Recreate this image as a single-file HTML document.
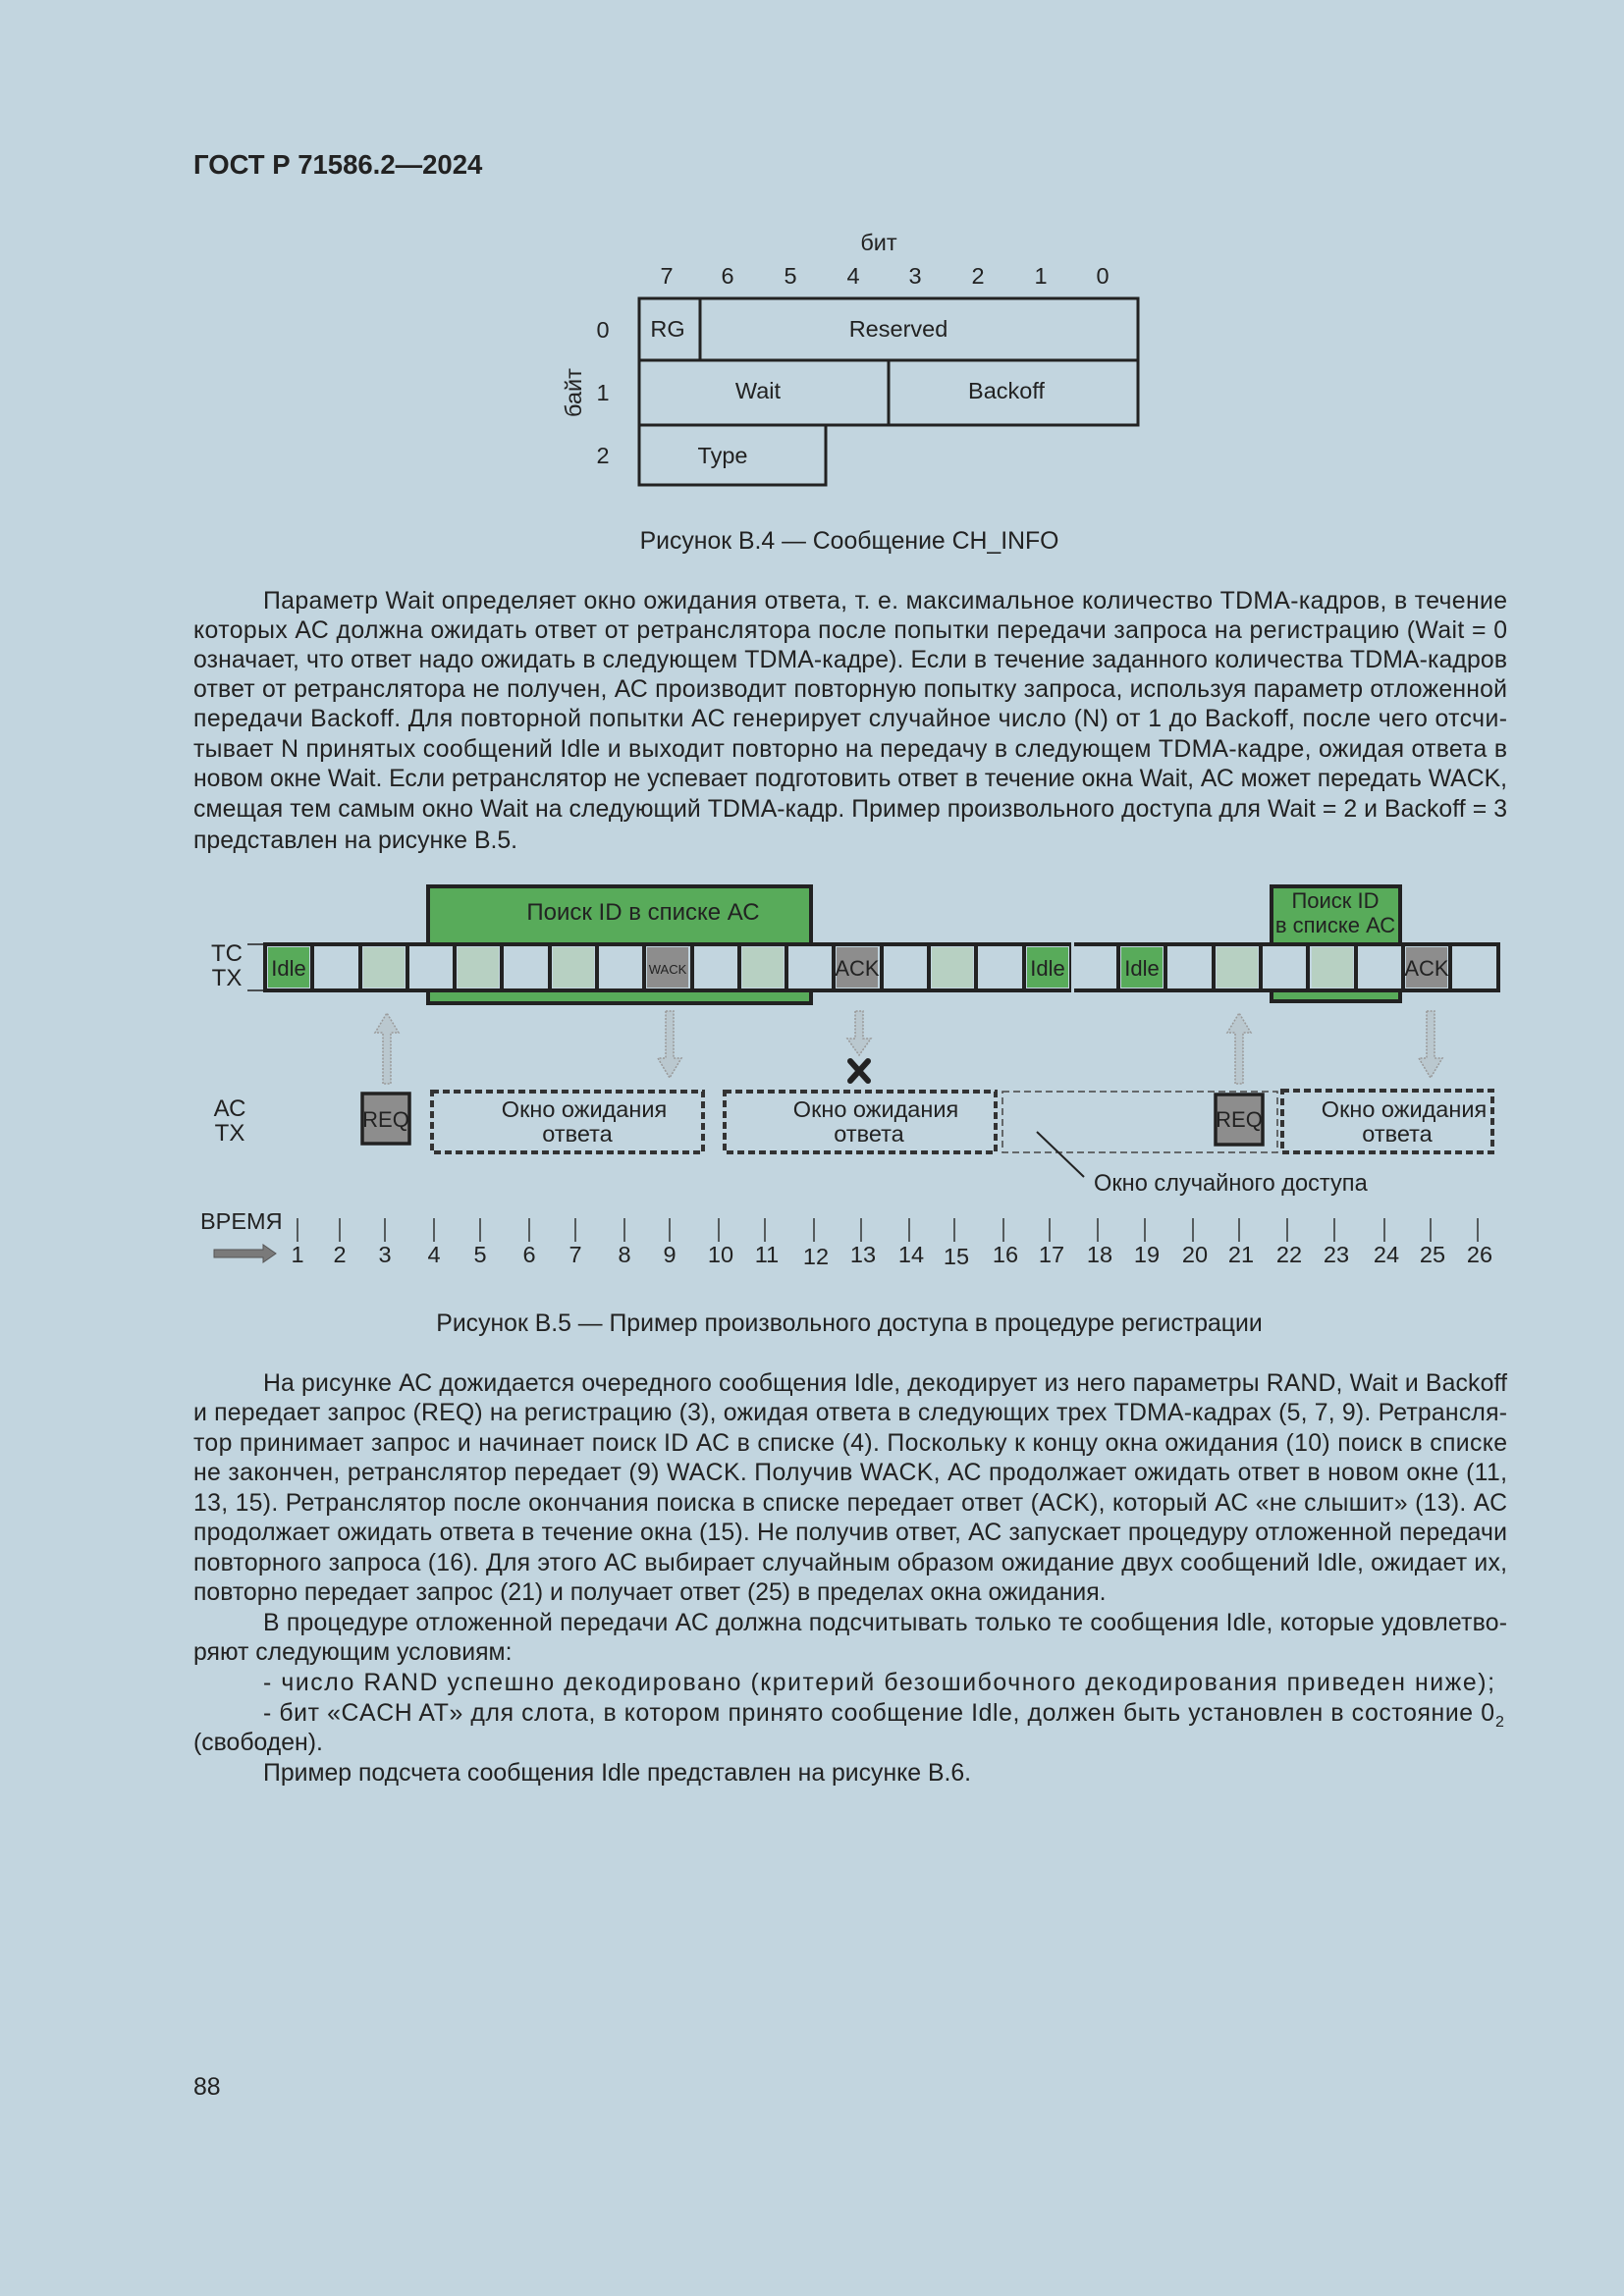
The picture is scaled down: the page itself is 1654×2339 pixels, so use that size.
<!DOCTYPE html>
<html><head><meta charset="utf-8"><style>
html,body{margin:0;padding:0;background:#c2d5df}
svg{display:block}
text{font-family:"Liberation Sans",Arial,sans-serif;fill:#222}
</style></head><body>
<svg width="1654" height="2339" viewBox="0 0 1654 2339" xmlns="http://www.w3.org/2000/svg">
<rect width="1654" height="2339" fill="#c2d5df"/>
<text x="197" y="177" font-size="27.5" font-weight="bold">ГОСТ Р 71586.2—2024</text>

<!-- Fig B.4 -->
<g font-size="23.5" text-anchor="middle">
<text x="895" y="255">бит</text>
<text x="679" y="289">7</text><text x="741" y="289">6</text><text x="805" y="289">5</text><text x="869" y="289">4</text>
<text x="932" y="289">3</text><text x="996" y="289">2</text><text x="1060" y="289">1</text><text x="1123" y="289">0</text>
<text x="614" y="344">0</text><text x="614" y="408">1</text><text x="614" y="472">2</text>
<text transform="translate(592,400) rotate(-90)">байт</text>
<text x="680" y="343">RG</text><text x="915" y="343">Reserved</text>
<text x="772" y="406">Wait</text><text x="1025" y="406">Backoff</text>
<text x="736" y="472">Type</text>
</g>
<g fill="none" stroke="#222" stroke-width="3">
<rect x="651" y="304" width="508" height="63"/>
<line x1="713" y1="304" x2="713" y2="367"/>
<rect x="651" y="367" width="508" height="66"/>
<line x1="905" y1="367" x2="905" y2="433"/>
<rect x="651" y="433" width="190" height="61"/>
</g>
<text x="865" y="559" font-size="24.8" text-anchor="middle">Рисунок В.4 — Сообщение CH_INFO</text>

<g font-size="24.8">
<text x="268" y="620" textLength="1267" lengthAdjust="spacing">Параметр Wait определяет окно ожидания ответа, т. е. максимальное количество TDMA-кадров, в течение</text>
<text x="197" y="650" textLength="1338" lengthAdjust="spacing">которых АС должна ожидать ответ от ретранслятора после попытки передачи запроса на регистрацию (Wait = 0</text>
<text x="197" y="680" textLength="1338" lengthAdjust="spacing">означает, что ответ надо ожидать в следующем TDMA-кадре). Если в течение заданного количества TDMA-кадров</text>
<text x="197" y="710" textLength="1338" lengthAdjust="spacing">ответ от ретранслятора не получен, АС производит повторную попытку запроса, используя параметр отложенной</text>
<text x="197" y="740" textLength="1338" lengthAdjust="spacing">передачи Backoff. Для повторной попытки АС генерирует случайное число (N) от 1 до Backoff, после чего отсчи-</text>
<text x="197" y="771" textLength="1338" lengthAdjust="spacing">тывает N принятых сообщений Idle и выходит повторно на передачу в следующем TDMA-кадре, ожидая ответа в</text>
<text x="197" y="801" textLength="1338" lengthAdjust="spacing">новом окне Wait. Если ретранслятор не успевает подготовить ответ в течение окна Wait, АС может передать WACK,</text>
<text x="197" y="832" textLength="1338" lengthAdjust="spacing">смещая тем самым окно Wait на следующий TDMA-кадр. Пример произвольного доступа для Wait = 2 и Backoff = 3</text>
<text x="197" y="864">представлен на рисунке В.5.</text>
</g>

<!-- Fig B.5 -->
<rect x="436" y="903" width="390" height="119" fill="#58ab5a" stroke="#222" stroke-width="4"/>
<text x="655" y="937" font-size="24" text-anchor="middle">Поиск ID в списке АС</text>
<rect x="1295" y="903" width="131" height="117" fill="#58ab5a" stroke="#222" stroke-width="4"/>
<text x="1360" y="925" font-size="22" text-anchor="middle">Поиск ID</text>
<text x="1360" y="950" font-size="22" text-anchor="middle">в списке АС</text>

<g id="strip">
<rect x="270" y="962" width="1256" height="47" fill="#c2d5df" stroke="#222" stroke-width="4"/>
<g>
<rect x="273" y="965" width="42" height="41" fill="#58ab5a"/>
<rect x="370" y="965" width="42" height="41" fill="#b7d0c2"/>
<rect x="466" y="965" width="42" height="41" fill="#b7d0c2"/>
<rect x="563" y="965" width="42" height="41" fill="#b7d0c2"/>
<rect x="659" y="965" width="42" height="41" fill="#8d8d8d"/>
<rect x="756" y="965" width="42" height="41" fill="#b7d0c2"/>
<rect x="852" y="965" width="42" height="41" fill="#8d8d8d"/>
<rect x="949" y="965" width="42" height="41" fill="#b7d0c2"/>
<rect x="1046" y="965" width="42" height="41" fill="#58ab5a"/>
<rect x="1142" y="965" width="42" height="41" fill="#58ab5a"/>
<rect x="1239" y="965" width="42" height="41" fill="#b7d0c2"/>
<rect x="1336" y="965" width="42" height="41" fill="#b7d0c2"/>
<rect x="1432" y="965" width="42" height="41" fill="#8d8d8d"/>
</g>
<g stroke="#222" stroke-width="4">
<line x1="318" y1="962" x2="318" y2="1009"/><line x1="367" y1="962" x2="367" y2="1009"/>
<line x1="415" y1="962" x2="415" y2="1009"/><line x1="463" y1="962" x2="463" y2="1009"/>
<line x1="511" y1="962" x2="511" y2="1009"/><line x1="560" y1="962" x2="560" y2="1009"/>
<line x1="608" y1="962" x2="608" y2="1009"/><line x1="656" y1="962" x2="656" y2="1009"/>
<line x1="705" y1="962" x2="705" y2="1009"/><line x1="753" y1="962" x2="753" y2="1009"/>
<line x1="801" y1="962" x2="801" y2="1009"/><line x1="849" y1="962" x2="849" y2="1009"/>
<line x1="898" y1="962" x2="898" y2="1009"/><line x1="946" y1="962" x2="946" y2="1009"/>
<line x1="994" y1="962" x2="994" y2="1009"/><line x1="1043" y1="962" x2="1043" y2="1009"/>
<line x1="1091" y1="962" x2="1091" y2="1009"/><line x1="1139" y1="962" x2="1139" y2="1009"/>
<line x1="1187" y1="962" x2="1187" y2="1009"/><line x1="1236" y1="962" x2="1236" y2="1009"/>
<line x1="1284" y1="962" x2="1284" y2="1009"/><line x1="1332" y1="962" x2="1332" y2="1009"/>
<line x1="1381" y1="962" x2="1381" y2="1009"/><line x1="1429" y1="962" x2="1429" y2="1009"/>
<line x1="1477" y1="962" x2="1477" y2="1009"/>
</g>
<rect x="1091" y="960" width="3" height="51" fill="#c2d5df"/>
<g font-size="22" text-anchor="middle">
<text x="294" y="994">Idle</text>
<text x="1067" y="994">Idle</text>
<text x="1163" y="994">Idle</text>
<text x="680" y="992" font-size="13">WACK</text>
<text x="873" y="994">ACK</text>
<text x="1453" y="994">ACK</text>
</g>
</g>
<g font-size="24" text-anchor="middle">
<text x="231" y="979">TC</text><text x="231" y="1004">TX</text>
<text x="234" y="1137">АС</text><text x="234" y="1162">ТХ</text>
</g>
<line x1="252" y1="962" x2="270" y2="962" stroke="#222" stroke-width="1.5"/>
<line x1="252" y1="1009" x2="270" y2="1009" stroke="#222" stroke-width="1.5"/>

<g fill="#bac8cf" stroke="#999" stroke-width="1.5" stroke-dasharray="2 1.5">
<path d="M390 1104 V1052 H382 L394 1032 L406 1052 H398 V1104 Z"/>
<path d="M678 1030 V1078 H670 L682 1098 L694 1078 H686 V1030 Z"/>
<path d="M871 1030 V1058 H863 L875 1075 L887 1058 H879 V1030 Z"/>
<path d="M1258 1104 V1052 H1250 L1262 1032 L1274 1052 H1266 V1104 Z"/>
<path d="M1453 1030 V1078 H1445 L1457 1098 L1469 1078 H1461 V1030 Z"/>
</g>
<g stroke="#222" stroke-width="6" stroke-linecap="round">
<line x1="866" y1="1081" x2="884" y2="1101"/><line x1="884" y1="1081" x2="866" y2="1101"/>
</g>

<rect x="369" y="1114" width="48" height="51" fill="#8d8d8d" stroke="#222" stroke-width="3.5"/>
<text x="393" y="1148" font-size="22" text-anchor="middle">REQ</text>
<rect x="1021" y="1112" width="280" height="62" fill="none" stroke="#444" stroke-width="1.5" stroke-dasharray="7 4"/>
<rect x="1238" y="1115" width="48" height="51" fill="#8d8d8d" stroke="#222" stroke-width="3.5"/>
<text x="1262" y="1148" font-size="22" text-anchor="middle">REQ</text>
<g fill="none" stroke="#333" stroke-width="4" stroke-dasharray="7 4">
<rect x="440" y="1112" width="276" height="62"/>
<rect x="738" y="1112" width="276" height="62"/>
<rect x="1306" y="1111" width="214" height="63"/>
</g>
<g font-size="23.5" text-anchor="middle">
<text x="595" y="1138">Окно ожидания</text><text x="588" y="1163">ответа</text>
<text x="892" y="1138">Окно ожидания</text><text x="885" y="1163">ответа</text>
<text x="1430" y="1138">Окно ожидания</text><text x="1423" y="1163">ответа</text>
</g>
<line x1="1056" y1="1153" x2="1104" y2="1199" stroke="#222" stroke-width="2"/>
<text x="1114" y="1213" font-size="23.6">Окно случайного доступа</text>

<text x="204" y="1252" font-size="23.5">ВРЕМЯ</text>
<path d="M218 1273 H268 V1268 L281 1277 L268 1286 V1281 H218 Z" fill="#7a7a7a" stroke="#555" stroke-width="1"/>
<g stroke="#333" stroke-width="1.5">
<line x1="303" y1="1241" x2="303" y2="1265"/><line x1="346" y1="1241" x2="346" y2="1265"/><line x1="392" y1="1241" x2="392" y2="1265"/>
<line x1="442" y1="1241" x2="442" y2="1265"/><line x1="489" y1="1241" x2="489" y2="1265"/><line x1="539" y1="1241" x2="539" y2="1265"/>
<line x1="586" y1="1241" x2="586" y2="1265"/><line x1="636" y1="1241" x2="636" y2="1265"/><line x1="682" y1="1241" x2="682" y2="1265"/>
<line x1="732" y1="1241" x2="732" y2="1265"/><line x1="779" y1="1241" x2="779" y2="1265"/><line x1="829" y1="1241" x2="829" y2="1265"/>
<line x1="877" y1="1241" x2="877" y2="1265"/><line x1="926" y1="1241" x2="926" y2="1265"/><line x1="972" y1="1241" x2="972" y2="1265"/>
<line x1="1022" y1="1241" x2="1022" y2="1265"/><line x1="1069" y1="1241" x2="1069" y2="1265"/><line x1="1118" y1="1241" x2="1118" y2="1265"/>
<line x1="1166" y1="1241" x2="1166" y2="1265"/><line x1="1215" y1="1241" x2="1215" y2="1265"/><line x1="1262" y1="1241" x2="1262" y2="1265"/>
<line x1="1311" y1="1241" x2="1311" y2="1265"/><line x1="1359" y1="1241" x2="1359" y2="1265"/><line x1="1410" y1="1241" x2="1410" y2="1265"/>
<line x1="1457" y1="1241" x2="1457" y2="1265"/><line x1="1505" y1="1241" x2="1505" y2="1265"/>
</g>
<g font-size="23.5" text-anchor="middle">
<text x="303" y="1286" fill="#777">1</text><text x="346" y="1286" fill="#777">2</text><text x="392" y="1286" fill="#777">3</text>
<text x="442" y="1286" fill="#777">4</text><text x="489" y="1286" fill="#777">5</text><text x="539" y="1286" fill="#777">6</text>
<text x="586" y="1286" fill="#777">7</text><text x="636" y="1286" fill="#777">8</text><text x="682" y="1286" fill="#777">9</text>
<text x="734" y="1286" fill="#777">10</text><text x="781" y="1286" fill="#777">11</text><text x="831" y="1288" fill="#777">12</text>
<text x="879" y="1286" fill="#777">13</text><text x="928" y="1286" fill="#777">14</text><text x="974" y="1288" fill="#777">15</text>
<text x="1024" y="1286" fill="#777">16</text><text x="1071" y="1286" fill="#777">17</text><text x="1120" y="1286" fill="#777">18</text>
<text x="1168" y="1286" fill="#777">19</text><text x="1217" y="1286" fill="#777">20</text><text x="1264" y="1286" fill="#777">21</text>
<text x="1313" y="1286" fill="#777">22</text><text x="1361" y="1286" fill="#777">23</text><text x="1412" y="1286" fill="#777">24</text>
<text x="1459" y="1286" fill="#777">25</text><text x="1507" y="1286" fill="#777">26</text>
</g>
<text x="865" y="1356" font-size="24.8" text-anchor="middle">Рисунок В.5 — Пример произвольного доступа в процедуре регистрации</text>

<g font-size="24.8">
<text x="268" y="1417" textLength="1267" lengthAdjust="spacing">На рисунке АС дожидается очередного сообщения Idle, декодирует из него параметры RAND, Wait и Backoff</text>
<text x="197" y="1447" textLength="1338" lengthAdjust="spacing">и передает запрос (REQ) на регистрацию (3), ожидая ответа в следующих трех TDMA-кадрах (5, 7, 9). Ретрансля-</text>
<text x="197" y="1478" textLength="1338" lengthAdjust="spacing">тор принимает запрос и начинает поиск ID АС в списке (4). Поскольку к концу окна ожидания (10) поиск в списке</text>
<text x="197" y="1508" textLength="1338" lengthAdjust="spacing">не закончен, ретранслятор передает (9) WACK. Получив WACK, АС продолжает ожидать ответ в новом окне (11,</text>
<text x="197" y="1539" textLength="1338" lengthAdjust="spacing">13, 15). Ретранслятор после окончания поиска в списке передает ответ (ACK), который АС «не слышит» (13). АС</text>
<text x="197" y="1569" textLength="1338" lengthAdjust="spacing">продолжает ожидать ответа в течение окна (15). Не получив ответ, АС запускает процедуру отложенной передачи</text>
<text x="197" y="1600" textLength="1338" lengthAdjust="spacing">повторного запроса (16). Для этого АС выбирает случайным образом ожидание двух сообщений Idle, ожидает их,</text>
<text x="197" y="1630">повторно передает запрос (21) и получает ответ (25) в пределах окна ожидания.</text>
<text x="268" y="1661" textLength="1267" lengthAdjust="spacing">В процедуре отложенной передачи АС должна подсчитывать только те сообщения Idle, которые удовлетво-</text>
<text x="197" y="1691">ряют следующим условиям:</text>
<text x="268" y="1722" textLength="1254" lengthAdjust="spacing">- число RAND успешно декодировано (критерий безошибочного декодирования приведен ниже);</text>
<text x="268" y="1753" textLength="1254" lengthAdjust="spacing">- бит «CACH AT» для слота, в котором принято сообщение Idle, должен быть установлен в состояние 0</text>
<text x="1523" y="1759" font-size="16">2</text>
<text x="197" y="1783">(свободен).</text>
<text x="268" y="1814">Пример подсчета сообщения Idle представлен на рисунке В.6.</text>
</g>
<text x="197" y="2134" font-size="24.8">88</text>
</svg>
</body></html>
